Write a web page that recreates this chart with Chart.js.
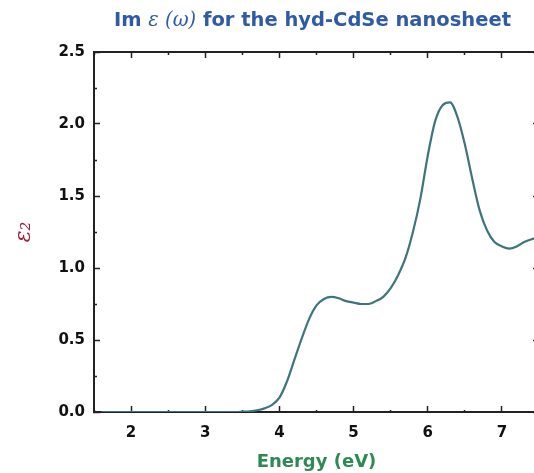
<!DOCTYPE html>
<html>
<head>
<meta charset="utf-8">
<script src="https://cdn.jsdelivr.net/npm/chart.js@4.4.0/dist/chart.umd.min.js"></script>
<style>
  html, body { margin: 0; padding: 0; background: #fff; overflow: hidden; }
  #wrap { width: 534px; height: 473px; overflow: hidden; }
</style>
</head>
<body>
<div id="wrap"><canvas id="eps" width="557" height="473"></canvas></div>
<script>
// Im eps(omega) of hyd-CdSe nanosheet
var energy = [1.6, 1.7, 1.8, 1.9, 2.0, 2.1, 2.2, 2.3, 2.4, 2.5,
              2.6, 2.7, 2.8, 2.9, 3.0, 3.1, 3.2, 3.3, 3.4, 3.5,
              3.6, 3.7, 3.8, 3.9, 4.0, 4.1, 4.2, 4.3, 4.4, 4.5,
              4.6, 4.7, 4.8, 4.9, 5.0, 5.1, 5.2, 5.3, 5.4, 5.5,
              5.6, 5.7, 5.8, 5.9, 6.0, 6.1, 6.2, 6.3, 6.4, 6.5,
              6.6, 6.7, 6.8, 6.9, 7.0, 7.1, 7.2, 7.3, 7.4, 7.5];
var eps2 = [0, 0, 0, 0, 0, 0, 0, 0, 0, 0,
            0, 0, 0, 0, 0, 0, 0, 0, 0, 0.002,
            0.005, 0.012, 0.025, 0.05, 0.10, 0.21, 0.36, 0.51, 0.645, 0.74,
            0.785, 0.80, 0.79, 0.77, 0.76, 0.75, 0.75, 0.77, 0.80, 0.86,
            0.95, 1.07, 1.25, 1.48, 1.78, 2.02, 2.13, 2.15, 2.05, 1.86,
            1.62, 1.40, 1.26, 1.18, 1.15, 1.135, 1.15, 1.18, 1.20, 1.21];

var xMajor = [2, 3, 4, 5, 6, 7];
var xLabels = ['2', '3', '4', '5', '6', '7'];
var yMajor = [0, 0.5, 1.0, 1.5, 2.0, 2.5];
var yLabels = ['0.0', '0.5', '1.0', '1.5', '2.0', '2.5'];

var tickFont = { family: 'DejaVu Sans', weight: 'bold', size: 15 };

function isMinor(ctx, list) {
  return !ctx.tick || list.indexOf(ctx.tick.value) < 0;
}

// title with italic epsilon/omega part
var titlePlugin = {
  id: 'partTitle',
  afterDraw: function(chart) {
    var c = chart.ctx;
    var parts = [
      ['Im ', 'bold 19.5px "DejaVu Sans"'],
      ['\u03b5 (\u03c9)', 'italic 19.5px "DejaVu Serif"'],
      [' for the hyd-CdSe nanosheet', 'bold 19.5px "DejaVu Sans"']
    ];
    c.save();
    var total = 0;
    parts.forEach(function(p) { c.font = p[1]; total += c.measureText(p[0]).width; });
    var x = (chart.chartArea.left + chart.chartArea.right) / 2 - 4 - total / 2;
    c.fillStyle = '#2f5ba6';
    c.textBaseline = 'middle';
    parts.forEach(function(p) {
      c.font = p[1];
      c.fillText(p[0], x, 21);
      x += c.measureText(p[0]).width;
    });
    c.restore();
  }
};

var points = energy.map(function(e, i) { return { x: e, y: eps2[i] }; });

new Chart(document.getElementById('eps'), {
  type: 'line',
  data: {
    datasets: [{
      data: points,
      borderColor: '#3f747c',
      borderWidth: 2.2,
      pointRadius: 0,
      cubicInterpolationMode: 'monotone',
      fill: false
    }]
  },
  options: {
    responsive: false,
    animation: false,
    layout: { padding: { top: 52, right: 7, left: 0, bottom: 0 } },
    plugins: { legend: { display: false }, tooltip: { enabled: false } },
    scales: {
      x: {
        type: 'linear', position: 'bottom', min: 1.5, max: 7.5,
        ticks: {
          stepSize: 0.5, autoSkip: false, maxRotation: 0, padding: 18,
          color: '#111', font: tickFont,
          callback: function(v) { var i = xMajor.indexOf(v); return i < 0 ? '' : xLabels[i]; }
        },
        grid: {
          drawOnChartArea: false, tickLength: -6, tickWidth: 1.5, tickColor: '#222',
          tickBorderDash: function(ctx) { return isMinor(ctx, xMajor) ? [3, 20] : []; }
        },
        border: { color: '#222', width: 2 },
        title: {
          display: true, text: 'Energy (eV)', color: '#2e8a52',
          font: { family: 'DejaVu Sans', weight: 'bold', size: 18 },
          padding: { top: 0, bottom: 0 }
        },
        afterFit: function(s) { s.height = 61; }
      },
      x2: {
        type: 'linear', position: 'top', min: 1.5, max: 7.5, display: true,
        ticks: { stepSize: 0.5, display: false },
        grid: {
          drawOnChartArea: false, tickLength: -6, tickWidth: 1.5, tickColor: '#222',
          tickBorderDash: function(ctx) { return isMinor(ctx, xMajor) ? [0, 3, 3, 20] : []; }
        },
        border: { color: '#222', width: 2 },
        afterFit: function(s) { s.height = 0; }
      },
      y: {
        type: 'linear', position: 'left', min: 0, max: 2.5,
        ticks: {
          stepSize: 0.25, autoSkip: false, padding: 15,
          color: '#111', font: tickFont,
          callback: function(v) { var i = yMajor.indexOf(v); return i < 0 ? '' : yLabels[i]; }
        },
        grid: {
          drawOnChartArea: false, tickLength: -6, tickWidth: 1.5, tickColor: '#222',
          tickBorderDash: function(ctx) { return isMinor(ctx, yMajor) ? [0, 3, 3, 20] : []; }
        },
        border: { color: '#222', width: 2 },
        title: {
          display: true, text: '\u03b5\u2082', color: '#9b2335',
          font: { family: 'DejaVu Serif', style: 'italic', size: 22 },
          padding: { top: 11, bottom: 0 }
        },
        afterFit: function(s) { s.width = 94; }
      },
      y2: {
        type: 'linear', position: 'right', min: 0, max: 2.5, display: true,
        ticks: { stepSize: 0.25, display: false },
        grid: {
          drawOnChartArea: false, tickLength: -6, tickWidth: 1.5, tickColor: '#222',
          tickBorderDash: function(ctx) { return isMinor(ctx, yMajor) ? [3, 20] : []; }
        },
        border: { color: '#222', width: 2 },
        afterFit: function(s) { s.width = 0; }
      }
    }
  },
  plugins: [titlePlugin]
});
</script>
</body>
</html>
